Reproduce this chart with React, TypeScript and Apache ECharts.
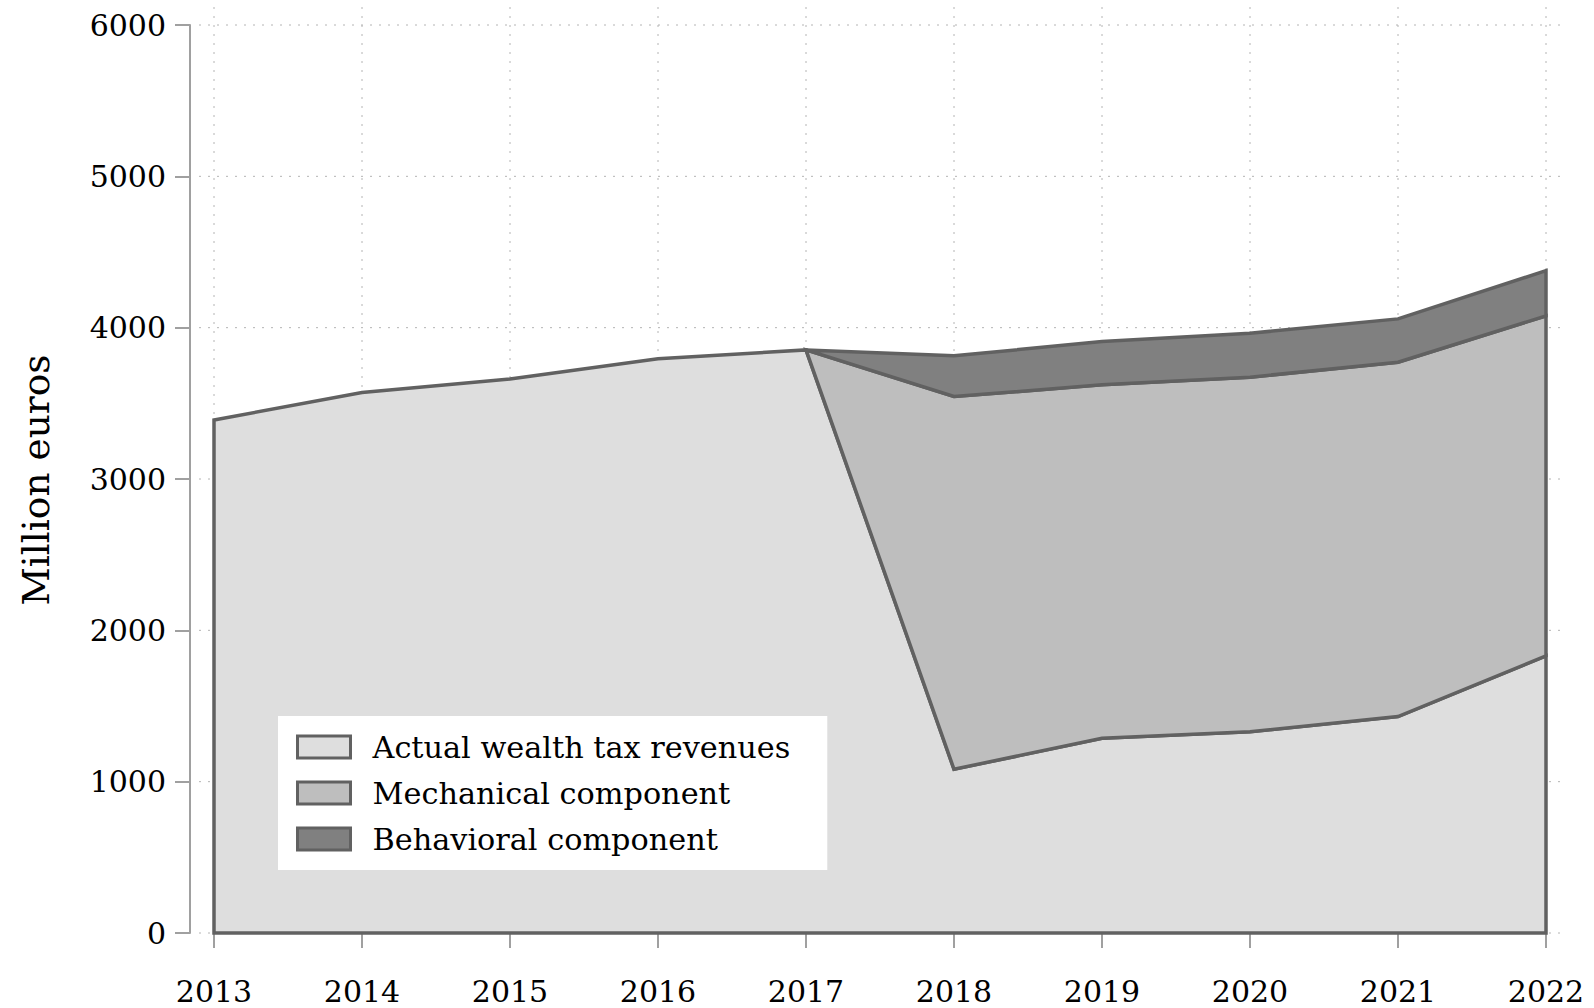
import React, { useEffect, useRef } from "react";
import * as echarts from "echarts";

const years = [2013, 2014, 2015, 2016, 2017, 2018, 2019, 2020, 2021, 2022];
const actual = [3390, 3571, 3661, 3794, 3853, 1082, 1287, 1330, 1430, 1831];
// mechanical and behavioral components, from 2017 on
const reformYears = [2017, 2018, 2019, 2020, 2021, 2022];
const mechanical = [0, 2463, 2335, 2343, 2342, 2247];
const behavioral = [0, 269, 286, 290, 286, 299];
const seriesNames = ["Actual wealth tax revenues", "Mechanical component", "Behavioral component"];
const fills = ["#dedede", "#bebebe", "#808080"];
const yTicks = [0, 1000, 2000, 3000, 4000, 5000, 6000];

const FONT = "DejaVu Serif";
const OUTLINE = "#616161";

export default function App() {
  const ref = useRef<HTMLDivElement>(null);
  useEffect(() => {
    if (!ref.current) return;
    const chart = echarts.init(ref.current, null, { renderer: "svg" });

    const actualFrom2017 = reformYears.map((y) => actual[years.indexOf(y)]);
    const mechTop = reformYears.map((_, i) => actualFrom2017[i] + mechanical[i]);
    const behTop = reformYears.map((_, i) => mechTop[i] + behavioral[i]);
    const zeros = years.map(() => 0);

    const layers = [
      { name: seriesNames[0], xs: years, lower: zeros, upper: actual, fill: fills[0] },
      { name: seriesNames[1], xs: reformYears, lower: actualFrom2017, upper: mechTop, fill: fills[1] },
      { name: seriesNames[2], xs: reformYears, lower: mechTop, upper: behTop, fill: fills[2] },
    ];

    const xMin = years[0];
    const xMax = years[years.length - 1];
    const yMin = yTicks[0];
    const yMax = yTicks[yTicks.length - 1];

    const gridSeries = {
      type: "custom",
      name: "gridlines",
      clip: false,
      silent: true,
      z: 0,
      encode: { x: 0, y: 1 },
      data: [[xMin, yMin]],
      renderItem: (params: any, api: any) => {
        const children: any[] = [];
        const dotted = { stroke: "#b4b4b4", lineWidth: 1, lineDash: [2, 7], fill: null };
        yTicks.forEach((t) => {
          const a = api.coord([xMin, t]);
          const b = api.coord([xMax, t]);
          children.push({ type: "line", shape: { x1: a[0] - 15, y1: a[1], x2: b[0] + 15, y2: b[1] }, style: dotted });
        });
        years.forEach((y) => {
          const a = api.coord([y, yMax]);
          const b = api.coord([y, yMin]);
          children.push({ type: "line", shape: { x1: a[0], y1: a[1] - 18, x2: b[0], y2: b[1] + 15 }, style: dotted });
        });
        return { type: "group", children };
      },
    };

    const series: any[] = [gridSeries].concat(
      layers.map((L) => ({
        type: "custom",
        name: L.name,
        clip: false,
        z: 2,
        encode: { x: 0, y: 1 },
        itemStyle: { color: L.fill, borderColor: OUTLINE, borderWidth: 3 },
        data: L.xs.map((x, i) => [x, L.upper[i]]),
        renderItem: (params: any, api: any) => {
          if (params.dataIndex !== 0) return null;
          const top = L.xs.map((x, i) => api.coord([x, L.upper[i]]));
          const bot = L.xs.map((x, i) => api.coord([x, L.lower[i]])).reverse();
          return {
            type: "polygon",
            shape: { points: top.concat(bot) },
            style: { fill: L.fill, stroke: OUTLINE, lineWidth: 3.5, lineJoin: "miter" },
          };
        },
      })) as any[]
    );

    chart.setOption({
      animation: false,
      backgroundColor: "#ffffff",
      textStyle: { fontFamily: FONT },
      grid: { left: 214, right: 48, top: 25, bottom: 75 },
      xAxis: {
        type: "value",
        min: xMin,
        max: xMax,
        interval: 1,
        offset: 24,
        axisLine: { show: true, lineStyle: { color: "#a0a0a0", width: 2 } },
        axisTick: { show: true, length: 15, lineStyle: { color: "#a0a0a0", width: 2 } },
        axisLabel: { color: "#000", fontSize: 30, fontFamily: FONT, margin: 19, formatter: (v: number) => String(v) },
        splitLine: { show: false },
      },
      yAxis: {
        type: "value",
        min: yMin,
        max: yMax,
        interval: 1000,
        offset: 24,
        axisLine: { show: true, lineStyle: { color: "#a0a0a0", width: 2 } },
        axisTick: { show: true, length: 15, lineStyle: { color: "#a0a0a0", width: 2 } },
        axisLabel: { color: "#000", fontSize: 30, fontFamily: FONT, margin: 24, formatter: (v: number) => String(v) },
        splitLine: { show: false },
      },
      legend: {
        orient: "vertical",
        left: 278,
        top: 716,
        backgroundColor: "#ffffff",
        padding: [16, 37, 16, 18],
        itemWidth: 53,
        itemHeight: 22,
        itemGap: 16,
        icon: "rect",
        textStyle: { fontFamily: FONT, fontSize: 30.3, color: "#000", lineHeight: 30, padding: [0, 0, 0, 17] },
        data: layers.map((L) => ({
          name: L.name,
          icon: "rect",
          itemStyle: { color: L.fill, borderColor: OUTLINE, borderWidth: 3 },
        })),
      },
      graphic: [
        {
          type: "text",
          x: 36,
          y: 480,
          rotation: Math.PI / 2,
          style: {
            text: "Million euros",
            fontFamily: FONT,
            fontSize: 37.5,
            fill: "#000",
            align: "center",
            verticalAlign: "middle",
          },
        },
      ],
      series,
    });
    return () => chart.dispose();
  }, []);
  return (
    <div
      ref={ref}
      style={{ position: "fixed", left: 0, top: 0, width: 1594, height: 1008 }}
    />
  );
}
